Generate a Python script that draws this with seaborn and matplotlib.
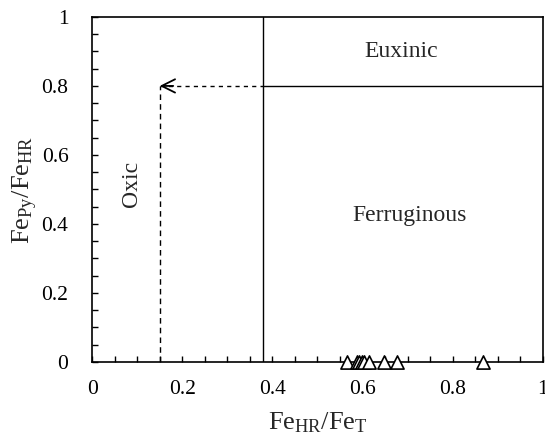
import numpy as np
import pandas as pd
import matplotlib
matplotlib.use("Agg")
import matplotlib.pyplot as plt
from matplotlib.ticker import MultipleLocator
import seaborn as sns

# Sample iron speciation ratios
fe_hr_fe_t = [0.565, 0.588, 0.593, 0.598, 0.603, 0.615, 0.648, 0.677, 0.868]
fe_py_fe_hr = [0.0, 0.0, 0.0, 0.0, 0.0, 0.0, 0.0, 0.0, 0.0]

# Redox thresholds
oxic_limit = 0.15
anoxic_limit = 0.38
euxinic_limit = 0.8

field_names = ["Euxinic", "Ferruginous", "Oxic"]
tick_values = [0, 0.2, 0.4, 0.6, 0.8, 1.0]
tick_labels = ["0", "0.2", "0.4", "0.6", "0.8", "1"]

sns.set_theme(style="ticks")
plt.rcParams["font.family"] = ["Liberation Serif", "DejaVu Serif"]
plt.rcParams["mathtext.fontset"] = "custom"
plt.rcParams["mathtext.rm"] = "Liberation Serif"
plt.rcParams["mathtext.it"] = "Liberation Serif:italic"

df = pd.DataFrame({"x": fe_hr_fe_t, "y": fe_py_fe_hr})

fig = plt.figure(figsize=(5.45, 4.45), dpi=100)
ax = fig.add_axes([0.169, 0.1865, 0.827, 0.7755])

# Field boundaries
ax.plot([anoxic_limit, anoxic_limit], [0, 1], color="black", lw=1.0)
ax.plot([anoxic_limit, 1], [euxinic_limit, euxinic_limit], color="black", lw=1.0)
ax.plot([oxic_limit, oxic_limit], [0, euxinic_limit], color="black", lw=1.0,
        ls=(0, (4, 3)))
ax.plot([oxic_limit, anoxic_limit], [euxinic_limit, euxinic_limit], color="black",
        lw=1.0, ls=(0, (3, 3)))
ax.annotate("", xy=(oxic_limit, euxinic_limit),
            xytext=(oxic_limit + 0.03, euxinic_limit),
            arrowprops=dict(arrowstyle="->", color="black", lw=1.3,
                            shrinkA=0, shrinkB=0, mutation_scale=24))

sns.scatterplot(data=df, x="x", y="y", marker="^", s=90, facecolor="white",
                edgecolor="black", linewidth=1.2, ax=ax, clip_on=False, zorder=5)

ax.text(0.686, 0.90, field_names[0], ha="center", va="center", fontsize=17)
ax.text(0.705, 0.425, field_names[1], ha="center", va="center", fontsize=17)
ax.text(0.088, 0.516, field_names[2], ha="center", va="center", fontsize=17,
        rotation=90)

ax.set_xlim(0, 1)
ax.set_ylim(0, 1)
ax.xaxis.set_minor_locator(MultipleLocator(0.05))
ax.yaxis.set_minor_locator(MultipleLocator(0.05))
ax.set_xticks(tick_values)
ax.set_xticklabels(tick_labels)
ax.set_yticks(tick_values)
ax.set_yticklabels(tick_labels)
ax.tick_params(which="both", direction="in", length=4, width=1.0,
               labelsize=15.5, colors="black")
ax.tick_params(axis="y", pad=17)
ax.tick_params(axis="x", pad=13)
for side in ax.spines.values():
    side.set_linewidth(1.2)
    side.set_color("black")

ax.set_xlabel(r"$\mathrm{Fe_{HR}/Fe_{T}}$", fontsize=19, labelpad=8)
ax.set_ylabel(r"$\mathrm{Fe_{Py}/Fe_{HR}}$", fontsize=19, labelpad=1)

fig.savefig("out.png", dpi=100)
